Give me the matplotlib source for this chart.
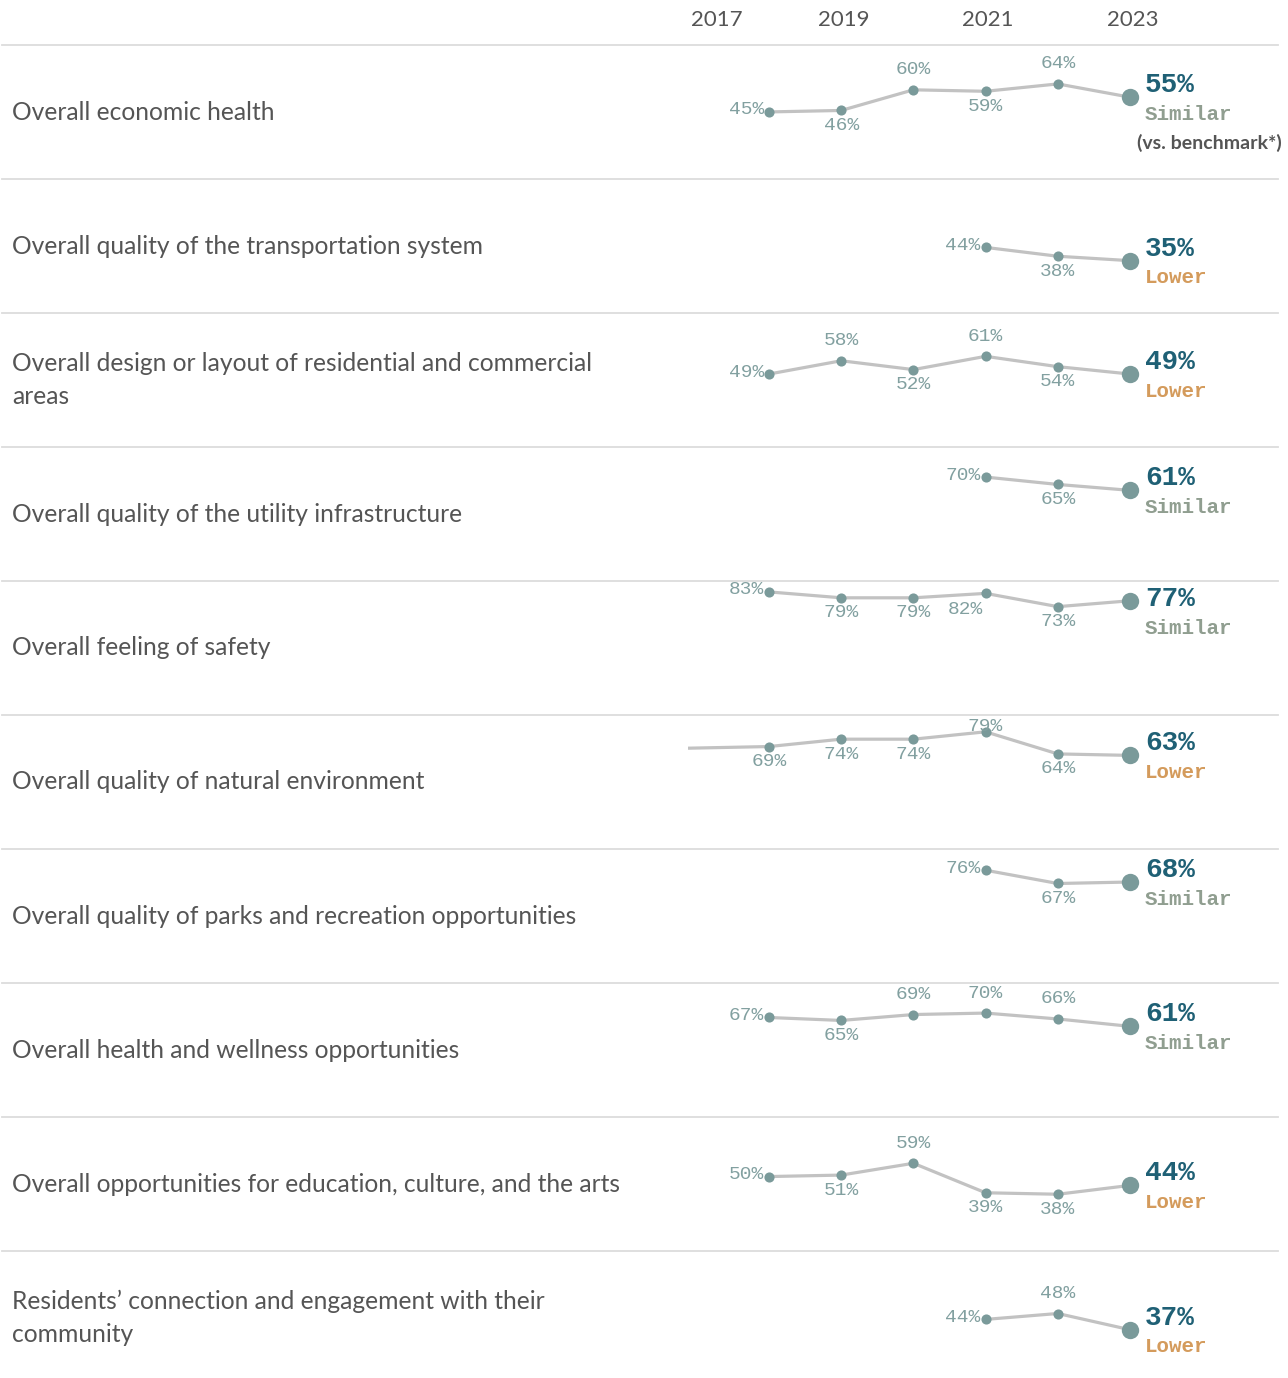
import matplotlib
matplotlib.use("Agg")
import matplotlib.pyplot as plt
from matplotlib.lines import Line2D

# ---- data ------------------------------------------------------------------
labels = [
    "Overall economic health",
    "Overall quality of the transportation system",
    "Overall design or layout of residential and commercial\nareas",
    "Overall quality of the utility infrastructure",
    "Overall feeling of safety",
    "Overall quality of natural environment",
    "Overall quality of parks and recreation opportunities",
    "Overall health and wellness opportunities",
    "Overall opportunities for education, culture, and the arts",
    "Residents\u2019 connection and engagement with their\ncommunity",
]
years_full = [2018, 2019, 2020, 2021, 2022, 2023]
years_short = [2021, 2022, 2023]
years_nat = [2016, 2018, 2019, 2020, 2021, 2022, 2023]

economic = [45, 46, 60, 59, 64, 55]
transport = [44, 38, 35]
design = [49, 58, 52, 61, 54, 49]
utility = [70, 65, 61]
safety = [83, 79, 79, 82, 73, 77]
natural = [67, 69, 74, 74, 79, 64, 63]
parks = [76, 67, 68]
health = [67, 65, 69, 70, 66, 61]
education = [50, 51, 59, 39, 38, 44]
community = [44, 48, 37]

series = [
    (years_full, economic), (years_short, transport), (years_full, design),
    (years_short, utility), (years_full, safety), (years_nat, natural),
    (years_short, parks), (years_full, health), (years_full, education),
    (years_short, community),
]
status = ["Similar", "Lower", "Lower", "Similar", "Similar", "Lower",
          "Similar", "Similar", "Lower", "Lower"]
header_years = ["2017", "2019", "2021", "2023"]

# label placement per point (last point gets the big label instead)
# L=left, A=above, B=below, X=below-left, T=tight above, N=none
label_side = ["LBABA", "LB", "LABAB", "LB", "LBBXB", "NBBBTB",
              "LB", "LBAAA", "LBABB", "LA"]

# ---- style -----------------------------------------------------------------
W, H = 1288, 1378
ROW_TOP, ROW_H = 45, 134
X0, X1 = 688, 1278
PX_PER_YEAR = 72.2
YLO, YHI = -0.5, 90.4
TEXT = "#555555"
GRID = "#dcdcdc"
LINE = "#c2c2c2"
DOT = "#7a9a9a"
LBL = "#82a0a0"
BIG = "#1f6075"
STATUS_COL = {"Similar": "#909e90", "Lower": "#d49b5c"}
MONO = "Liberation Mono"
SANS = "Lato"

fig = plt.figure(figsize=(W / 100, H / 100), dpi=100)


def fx(px):
    return px / W


def fy(py):
    return 1 - py / H


pt = 0.72  # points per pixel at dpi 100
offsets = {
    "L": ((-5, 2), "right"),
    "A": ((0, 20), "center"),
    "B": ((0, -15), "center"),
    "X": ((-20, -16), "center"),
    "T": ((0, 5), "center"),
}

# header
for yr, xp in zip(header_years, [717, 844, 988, 1133]):
    fig.text(fx(xp), fy(20), yr, ha="center", va="center", fontsize=16,
             color=TEXT, family=SANS)

for i, (lab, (yrs, vals)) in enumerate(zip(labels, series)):
    top = ROW_TOP + i * ROW_H
    # separator
    fig.add_artist(Line2D([fx(2), fx(1278)], [fy(top), fy(top)],
                          color=GRID, lw=1.3))
    fig.text(fx(12), fy(top + ROW_H / 2), lab, ha="left", va="center",
             fontsize=17.7, color=TEXT, family=SANS, linespacing=1.55)

    ax = fig.add_axes([fx(X0), fy(top + ROW_H), fx(X1 - X0), ROW_H / H])
    ax.set_xlim(2018 - (769 - X0) / PX_PER_YEAR, 2023 + (X1 - 1130) / PX_PER_YEAR)
    ax.set_ylim(YLO, YHI)
    ax.axis("off")
    ax.patch.set_alpha(0)

    ax.plot(yrs, vals, color=LINE, lw=2.3, zorder=1, solid_capstyle="round")
    sides = label_side[i]
    for yr, v, s in zip(yrs[:-1], vals[:-1], sides):
        if s == "N" or yr < 2017:
            continue
        ax.plot(yr, v, "o", ms=7.3, color=DOT, mec="none", zorder=2)
        (dx, dy), ha = offsets[s]
        ax.annotate(f"{v}%", (yr, v), xytext=(dx * pt, dy * pt),
                    textcoords="offset points", ha=ha, va="center",
                    fontsize=14, color=LBL, family=MONO, zorder=3)
    ax.plot(yrs[-1], vals[-1], "o", ms=12.5, color=DOT, mec="none", zorder=2)

    # final value + comparison, kept inside the row like the original pane
    last_py = top + ROW_H * (1 - (vals[-1] - YLO) / (YHI - YLO))
    big_py = max(last_py - 12, top + 18)
    fig.text(fx(1145), fy(big_py), f"{vals[-1]}%", ha="left", va="center",
             fontsize=20, fontweight="bold", color=BIG, family=MONO)
    fig.text(fx(1145), fy(big_py + 29), status[i], ha="left", va="center",
             fontsize=15, fontweight="bold", color=STATUS_COL[status[i]],
             family=MONO)
    if i == 0:
        fig.text(fx(1209), fy(big_py + 58), "(vs. benchmark*)", ha="center",
                 va="center", fontsize=14, fontweight="bold", color=TEXT,
                 family=SANS)

fig.savefig("out.png", dpi=100)
